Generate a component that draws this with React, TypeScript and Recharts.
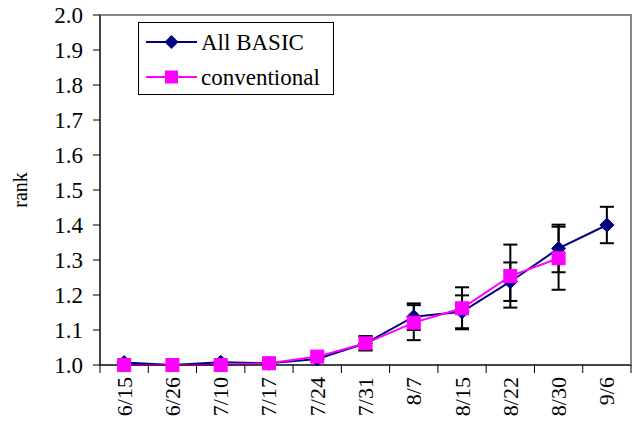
import React from 'react';
import { LineChart, Line, XAxis, YAxis, ErrorBar, ReferenceArea } from 'recharts';

const categories = ['6/15', '6/26', '7/10', '7/17', '7/24', '7/31', '8/7', '8/15', '8/22', '8/30', '9/6'];
const allBasic = [1.007, 1.0, 1.008, 1.005, 1.017, 1.062, 1.138, 1.152, 1.238, 1.333, 1.4];
const allBasicErr = [0, 0, 0, 0, 0, 0.02, 0.038, 0.047, 0.055, 0.068, 0.052];
const conventional = [1.0, 1.0, 1.0, 1.005, 1.024, 1.062, 1.121, 1.162, 1.254, 1.305, null];
const conventionalErr = [0, 0, 0, 0, 0, 0.02, 0.05, 0.06, 0.09, 0.09, 0];
const yTicks = [1.0, 1.1, 1.2, 1.3, 1.4, 1.5, 1.6, 1.7, 1.8, 1.9, 2.0];
const seriesNames = ['All BASIC', 'conventional'];

const data = categories.map((c, i) => ({
  pos: i + 0.5,
  name: c,
  basic: allBasic[i],
  basicErr: allBasicErr[i],
  conv: conventional[i],
  convErr: conventionalErr[i],
}));

const xTicks: number[] = [];
for (let i = 0; i <= categories.length * 2; i++) xTicks.push(i / 2);

const FONT = 'Liberation Serif';
const NAVY = '#000080';
const MAGENTA = '#FF00FF';

const Diamond = (props: any) => {
  const { cx, cy, index } = props;
  if (cx == null || cy == null) return <g key={'d' + index} />;
  const h = 7;
  return (
    <polygon
      key={'d' + index}
      points={`${cx},${cy - h} ${cx + h},${cy} ${cx},${cy + h} ${cx - h},${cy}`}
      fill={NAVY}
      stroke={NAVY}
    />
  );
};

const Square = (props: any) => {
  const { cx, cy, index } = props;
  if (cx == null || cy == null) return <g key={'s' + index} />;
  const h = 6.5;
  return <rect key={'s' + index} x={cx - h} y={cy - h} width={2 * h} height={2 * h} fill={MAGENTA} stroke={MAGENTA} />;
};

const XTick = (props: any) => {
  const { x, y, payload } = props;
  const v = payload.value as number;
  if (Number.isInteger(v)) {
    return <line x1={x} y1={y} x2={x} y2={y + 8} stroke="#000" strokeWidth={1} />;
  }
  const label = categories[Math.floor(v)];
  return (
    <text
      x={x}
      y={y + 12}
      transform={`rotate(-90, ${x}, ${y + 12})`}
      textAnchor="end"
      dominantBaseline="central"
      fontFamily={FONT}
      fontSize={22}
      fill="#000"
    >
      {label}
    </text>
  );
};

const LegendBox = () => (
  <svg width={196} height={73} style={{ position: 'absolute', left: 138, top: 22 }}>
    <rect x={0.5} y={0.5} width={195} height={72} fill="#fff" stroke="#000" strokeWidth={1} />
    <line x1={8} y1={20} x2={59} y2={20} stroke={NAVY} strokeWidth={2} />
    <polygon points="33.5,13 40.5,20 33.5,27 26.5,20" fill={NAVY} />
    <line x1={8} y1={55} x2={59} y2={55} stroke={MAGENTA} strokeWidth={2} />
    <rect x={27} y={48.5} width={13} height={13} fill={MAGENTA} />
    <text x={63} y={20} dominantBaseline="central" fontFamily={FONT} fontSize={23} fill="#000">{seriesNames[0]}</text>
    <text x={63} y={55} dominantBaseline="central" fontFamily={FONT} fontSize={23} fill="#000">{seriesNames[1]}</text>
  </svg>
);

export default function App() {
  return (
    <div style={{ position: 'absolute', left: 0, top: 0, width: 634, height: 423, background: '#fff' }}>
      <LineChart width={634} height={423} data={data} margin={{ top: 15, right: 3, left: 0, bottom: 0 }}>
        <ReferenceArea x1={0} x2={11} y1={1} y2={2} fill="none" stroke="#888" strokeWidth={2} ifOverflow="visible" />
        <XAxis
          type="number"
          dataKey="pos"
          domain={[0, 11]}
          ticks={xTicks}
          interval={0}
          tickLine={false}
          tickSize={0}
          tickMargin={0}
          tick={<XTick />}
          axisLine={{ stroke: '#000', strokeWidth: 1 }}
          height={58}
          allowDataOverflow
        />
        <YAxis
          type="number"
          domain={[1, 2]}
          ticks={yTicks}
          interval={0}
          width={100}
          tickSize={7}
          tickMargin={10}
          tickFormatter={(v: number) => v.toFixed(1)}
          tick={{ fontFamily: FONT, fontSize: 23, fill: '#000' }}
          tickLine={{ stroke: '#000' }}
          axisLine={{ stroke: '#000', strokeWidth: 1 }}
          label={{
            value: 'rank',
            angle: -90,
            position: 'insideLeft',
            offset: 20,
            style: { textAnchor: 'middle', fontFamily: FONT, fontSize: 20, fill: '#000' },
          }}
        />
        <Line
          dataKey="basic"
          stroke={NAVY}
          strokeWidth={2}
          dot={Diamond}
          activeDot={false}
          isAnimationActive={false}
          name={seriesNames[0]}
        >
          <ErrorBar dataKey="basicErr" width={7} stroke="#000" strokeWidth={2} direction="y" />
        </Line>
        <Line
          dataKey="conv"
          stroke={MAGENTA}
          strokeWidth={2}
          dot={Square}
          activeDot={false}
          isAnimationActive={false}
          name={seriesNames[1]}
        >
          <ErrorBar dataKey="convErr" width={7} stroke="#000" strokeWidth={2} direction="y" />
        </Line>
      </LineChart>
      <LegendBox />
    </div>
  );
}
